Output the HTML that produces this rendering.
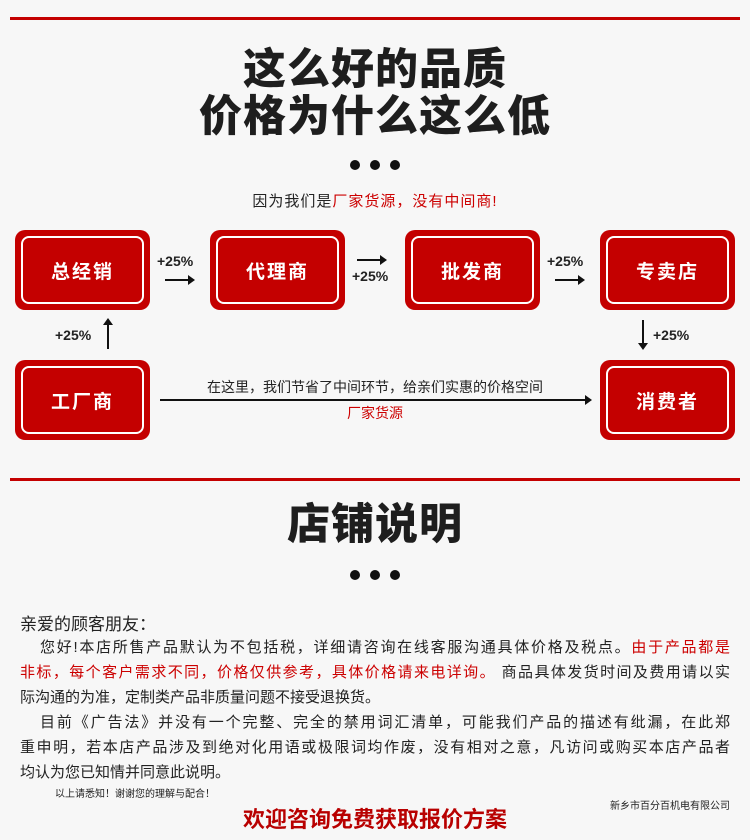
<!DOCTYPE html>
<html><head><meta charset="utf-8"><style>
*{margin:0;padding:0;box-sizing:border-box}
body{width:750px;height:840px;background:#f7f7f7;position:relative;overflow:hidden;font-family:"Liberation Sans","Noto Sans CJK SC",sans-serif;color:#222}
.abs{position:absolute}
.line{position:absolute;left:10px;width:730px;height:3px;background:#c40000}
.title{position:absolute;left:0;width:750px;text-align:center;font-size:43px;font-weight:900;color:#1e1e1e;letter-spacing:1px;line-height:50px}
.dot{position:absolute;width:10px;height:10px;border-radius:50%;background:#111}
.box{position:absolute;width:135px;height:80px;background:#c40000;border-radius:10px}
.box div{position:absolute;left:6px;top:6px;right:6px;bottom:6px;border:2px solid #fff;border-radius:8px;color:#fff;font-size:19px;font-weight:bold;display:flex;align-items:center;justify-content:center;letter-spacing:2px}
.pct{position:absolute;font-size:14px;font-weight:bold;color:#222}
.ar{position:absolute;height:2px;background:#111}
.ar:after{content:"";position:absolute;right:-2px;top:-4px;border-left:7px solid #111;border-top:5px solid transparent;border-bottom:5px solid transparent}
.p{position:absolute;left:20px;width:710px;font-size:15px;line-height:25px;text-align:justify;text-align-last:justify;white-space:nowrap}
.r{color:#c00}
</style></head><body>
<div class="line" style="top:17px"></div>
<div class="title" style="top:45px">这么好的品质</div>
<div class="title" style="top:92px">价格为什么这么低</div>
<div class="dot" style="left:350px;top:160px"></div><div class="dot" style="left:370px;top:160px"></div><div class="dot" style="left:390px;top:160px"></div>
<div class="abs" style="left:0;width:750px;top:190px;text-align:center;font-size:15px;letter-spacing:1px">因为我们是<span class="r">厂家货源，没有中间商!</span></div>

<div class="box" style="left:15px;top:230px"><div>总经销</div></div>
<div class="box" style="left:210px;top:230px"><div>代理商</div></div>
<div class="box" style="left:405px;top:230px"><div>批发商</div></div>
<div class="box" style="left:600px;top:230px"><div>专卖店</div></div>
<div class="box" style="left:15px;top:360px"><div>工厂商</div></div>
<div class="box" style="left:600px;top:360px"><div>消费者</div></div>

<div class="pct" style="left:157px;top:253px">+25%</div><div class="ar" style="left:165px;top:279px;width:28px"></div>
<div class="ar" style="left:357px;top:259px;width:28px"></div><div class="pct" style="left:352px;top:268px">+25%</div>
<div class="pct" style="left:547px;top:253px">+25%</div><div class="ar" style="left:555px;top:279px;width:28px"></div>
<div class="pct" style="left:55px;top:327px">+25%</div>
<div class="abs" style="left:107px;top:322px;width:2px;height:27px;background:#111"></div>
<div class="abs" style="left:103px;top:318px;border-bottom:7px solid #111;border-left:5px solid transparent;border-right:5px solid transparent"></div>
<div class="pct" style="left:653px;top:327px">+25%</div>
<div class="abs" style="left:642px;top:320px;width:2px;height:24px;background:#111"></div>
<div class="abs" style="left:638px;top:343px;border-top:7px solid #111;border-left:5px solid transparent;border-right:5px solid transparent"></div>
<div class="abs" style="left:160px;top:377px;width:430px;text-align:center;font-size:14px">在这里，我们节省了中间环节，给亲们实惠的价格空间</div>
<div class="ar" style="left:160px;top:399px;width:430px"></div>
<div class="abs r" style="left:160px;top:403px;width:430px;text-align:center;font-size:14px">厂家货源</div>

<div class="line" style="top:478px"></div>
<div class="title" style="top:500px">店铺说明</div>
<div class="dot" style="left:350px;top:570px"></div><div class="dot" style="left:370px;top:570px"></div><div class="dot" style="left:390px;top:570px"></div>

<div class="abs" style="left:20px;top:610px;font-size:17px">亲爱的顾客朋友：</div>
<div class="p" style="top:635px;padding-left:20px">您好!本店所售产品默认为不包括税，详细请咨询在线客服沟通具体价格及税点。<span class="r">由于产品都是</span></div>
<div class="p" style="top:660px"><span class="r">非标，每个客户需求不同，价格仅供参考，具体价格请来电详询。</span> 商品具体发货时间及费用请以实</div>
<div class="p" style="top:685px;text-align-last:left">际沟通的为准，定制类产品非质量问题不接受退换货。</div>
<div class="p" style="top:710px;padding-left:20px">目前《广告法》并没有一个完整、完全的禁用词汇清单，可能我们产品的描述有纰漏，在此郑</div>
<div class="p" style="top:735px">重申明，若本店产品涉及到绝对化用语或极限词均作废，没有相对之意，凡访问或购买本店产品者</div>
<div class="p" style="top:760px;text-align-last:left">均认为您已知情并同意此说明。</div>
<div class="abs" style="left:55px;top:785px;font-size:10px">以上请悉知！谢谢您的理解与配合！</div>
<div class="abs" style="right:20px;top:797px;font-size:10px">新乡市百分百机电有限公司</div>
<div class="abs r" style="left:0;width:750px;top:802px;text-align:center;font-size:22px;font-weight:bold;color:#b80000">欢迎咨询免费获取报价方案</div>
</body></html>
